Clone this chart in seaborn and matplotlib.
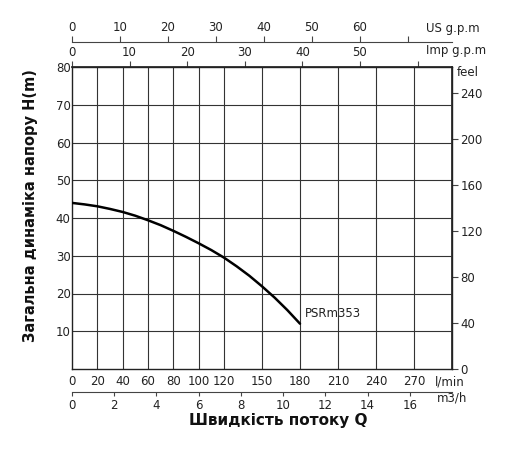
import matplotlib
matplotlib.use("Agg")
import matplotlib.pyplot as plt
import seaborn as sns
import pandas as pd

# pump curve (flow in l/min, head in m)
flow_lpm = [0, 10, 20, 30, 40, 50, 60, 70, 80, 90, 100, 110, 120, 130, 140, 150, 160, 170, 180]
head_m = [44, 43.6, 43.1, 42.4, 41.6, 40.6, 39.4, 38.1, 36.6, 35.0, 33.3, 31.5, 29.5,
          27.2, 24.7, 21.9, 18.9, 15.6, 12.0]
model_name = "PSRm353"

lpm_ticks = [0, 20, 40, 60, 80, 100, 120, 150, 180, 210, 240, 270]
lpm_grid = [20, 40, 60, 80, 100, 120, 150, 180, 210, 240, 270]
head_ticks = [10, 20, 30, 40, 50, 60, 70, 80]
m3h_ticks = [0, 2, 4, 6, 8, 10, 12, 14, 16]
us_ticks = [0, 10, 20, 30, 40, 50, 60, 70]
us_labels = ["0", "10", "20", "30", "40", "50", "60", ""]
imp_ticks = [0, 10, 20, 30, 40, 50, 60]
imp_labels = ["0", "10", "20", "30", "40", "50", ""]
feet_ticks = [0, 40, 80, 120, 160, 200, 240]

sns.set_theme(style="white")
plt.rcParams["font.family"] = ["DejaVu Sans"]
TXT = "#222222"
FS = 8.5

df = pd.DataFrame({"Q": flow_lpm, "H": head_m})

fig = plt.figure(figsize=(5.12, 4.53), dpi=100)
ax = fig.add_axes([72 / 512, 84 / 453, 380 / 512, 302 / 453])

for x in lpm_grid:
    ax.axvline(x, color="#333333", lw=0.8, zorder=1)
for y in head_ticks[:-1]:
    ax.axhline(y, color="#333333", lw=0.8, zorder=1)

sns.lineplot(data=df, x="Q", y="H", ax=ax, color="black", lw=1.8, zorder=3)
ax.text(184, 14.6, model_name, fontsize=FS, color=TXT, ha="left", va="center")

ax.set_xlim(0, 300)
ax.set_ylim(0, 80)
for s in ax.spines.values():
    s.set_color("#222222")
    s.set_linewidth(1.0)

ax.set_xticks(lpm_ticks)
ax.set_xticklabels([str(v) for v in lpm_ticks])
ax.set_yticks(head_ticks)
ax.set_yticklabels([str(v) for v in head_ticks])
ax.tick_params(axis="x", length=0, pad=4, labelsize=FS, labelcolor=TXT)
ax.tick_params(axis="y", length=0, pad=1, labelsize=FS, labelcolor=TXT)

ax.set_xlabel("")
ax.set_ylabel("Загальна динаміка напору H(m)", fontsize=10.5, fontweight="bold", color="#111111")
ax.yaxis.set_label_coords(-0.089, 0.54)
ax.text(0.542, -0.172, "Швидкість потоку Q", transform=ax.transAxes,
        fontsize=11, fontweight="bold", color="#111111", ha="center", va="center")

# m3/h scale under the plot
m3h = ax.secondary_xaxis(-0.076, functions=(lambda q: q * 0.06, lambda v: v / 0.06))
m3h.set_xticks(m3h_ticks)
m3h.set_xticklabels([str(v) for v in m3h_ticks])
m3h.tick_params(length=3, width=0.8, pad=2, labelsize=FS, labelcolor=TXT, color="#444444")
m3h.spines["bottom"].set_linewidth(0.8)
m3h.spines["bottom"].set_color("#444444")

# Imp g.p.m on the plot top
imp = ax.secondary_xaxis("top", functions=(lambda q: q / 4.54609, lambda v: v * 4.54609))
imp.set_xticks(imp_ticks)
imp.set_xticklabels(imp_labels)
imp.tick_params(length=4, width=0.8, pad=2, labelsize=FS, labelcolor=TXT, color="#444444")

# US g.p.m line above
us = ax.secondary_xaxis(1.083, functions=(lambda q: q / 3.785411784, lambda v: v * 3.785411784))
us.set_xticks(us_ticks)
us.set_xticklabels(us_labels)
us.tick_params(length=4, width=0.8, pad=2, labelsize=FS, labelcolor=TXT, color="#444444")
us.spines["top"].set_linewidth(0.8)
us.spines["top"].set_color("#444444")

# feet on the right
ft = ax.secondary_yaxis("right", functions=(lambda h: h * 3.28084, lambda f: f / 3.28084))
ft.set_yticks(feet_ticks)
ft.set_yticklabels([str(v) for v in feet_ticks])
ft.tick_params(length=4, width=0.8, pad=2, labelsize=FS, labelcolor=TXT, color="#444444")

# unit captions
unit_kw = dict(fontsize=FS, color=TXT, transform=ax.transAxes, va="center", ha="left")
ax.text(0.932, 1.126, "US g.p.m", **unit_kw)
ax.text(0.932, 1.053, "Imp g.p.m", **unit_kw)
ax.text(1.013, 0.982, "feel", **unit_kw)
ax.text(0.955, -0.043, "l/min", **unit_kw)
ax.text(0.96, -0.096, "m3/h", **unit_kw)

fig.savefig("out.png", dpi=100)
